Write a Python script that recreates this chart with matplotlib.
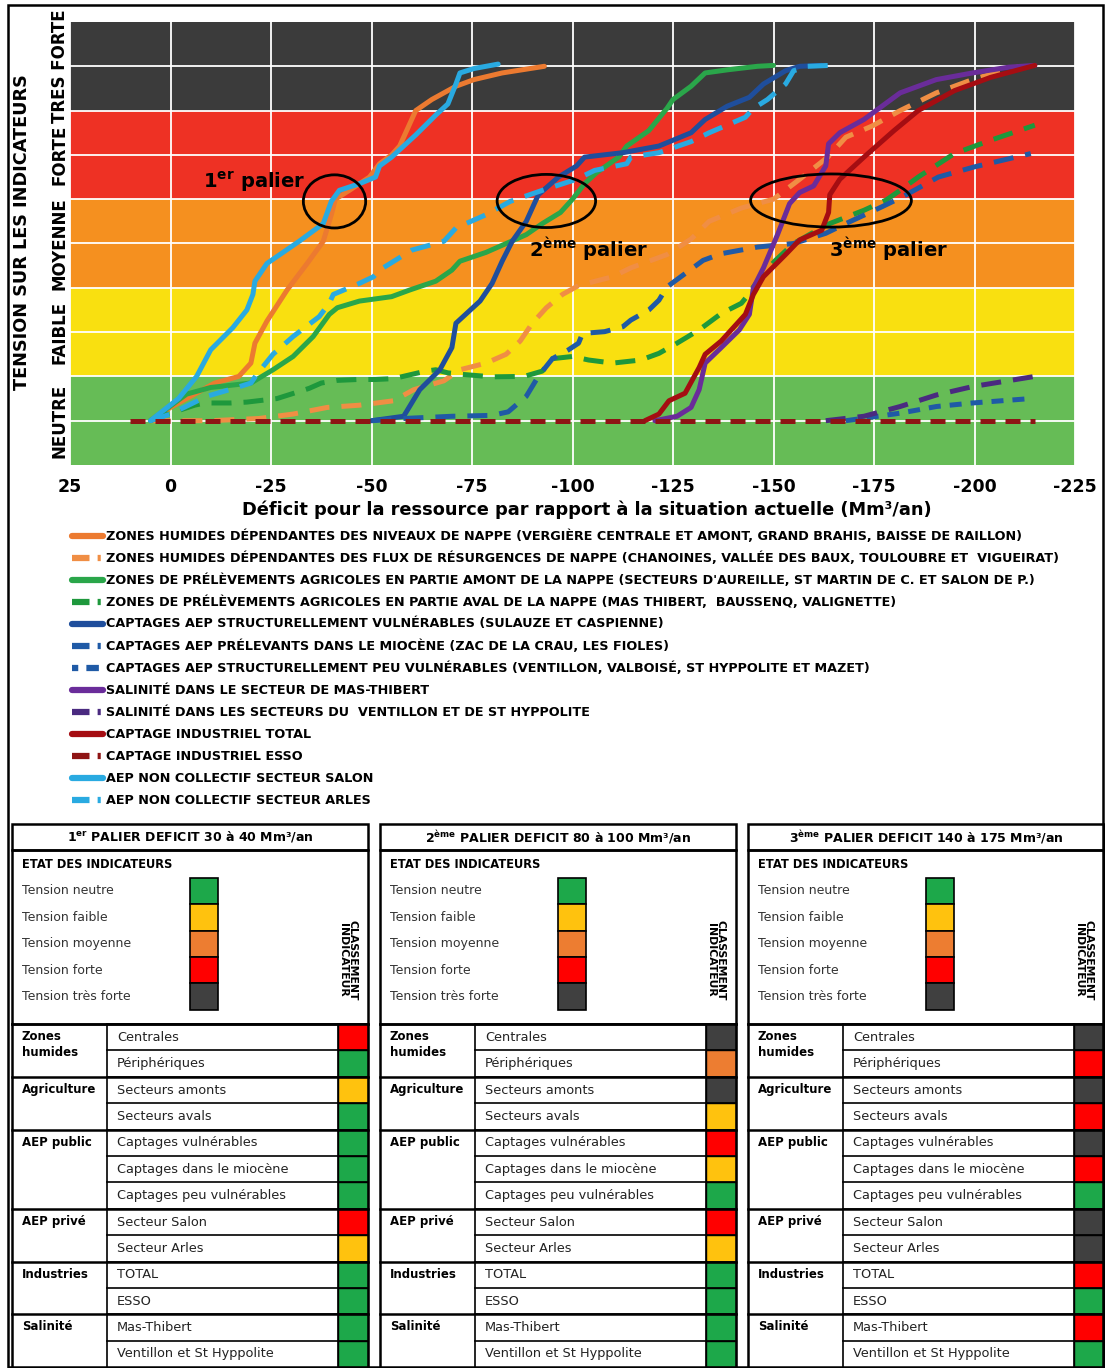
import matplotlib
matplotlib.use("Agg")
import matplotlib.pyplot as plt
from matplotlib.patches import Rectangle, Ellipse
from matplotlib import font_manager

# deficit vs situation actuelle (Mm3/an) and tension level (0..10, bands of 2)
zh_niveaux_x = [5, 0, -6, -11, -17, -20, -21, -24, -29, -34, -38, -40, -41, -44.5, -49.5, -52, -55, -57, -61, -65, -71, -75.5, -82.5, -93]
zh_niveaux_y = [1.0, 1.3, 1.6, 1.85, 2.0, 2.3, 2.75, 3.25, 3.95, 4.55, 5.05, 5.65, 6.0, 6.2, 6.5, 6.8, 7.0, 7.2, 8.0, 8.25, 8.55, 8.7, 8.85, 9.0]

zh_flux_x = [5, -10, -22, -30.5, -39, -47, -55.5, -60.5, -68, -72, -78.5, -83.5, -87, -90, -93.5, -97.5, -101.5, -110, -114.5, -123.5, -129.5, -134, -142, -150, -156.5, -163.5, -168, -174.5, -181.5, -190.5, -199.5, -207, -211.5]
zh_flux_y = [1.0, 1.0, 1.05, 1.15, 1.3, 1.35, 1.45, 1.7, 1.9, 2.15, 2.3, 2.5, 2.8, 3.2, 3.55, 3.85, 4.05, 4.25, 4.45, 4.75, 5.1, 5.5, 5.8, 6.0, 6.45, 6.95, 7.4, 7.65, 8.0, 8.4, 8.7, 8.9, 9.0]

agri_amont_x = [5, -4, -10, -20, -25.5, -30.5, -35.5, -39.5, -41.5, -47, -55, -59.5, -66, -70, -72, -78.5, -83.5, -88.5, -92.5, -97, -100, -103, -106, -111.5, -113.5, -119, -123.5, -125, -129.5, -133, -138.5, -146, -150]
agri_amont_y = [1.0, 1.6, 1.75, 1.85, 2.15, 2.45, 2.9, 3.4, 3.55, 3.7, 3.8, 3.95, 4.15, 4.4, 4.6, 4.8, 5.0, 5.2, 5.45, 5.7, 6.0, 6.35, 6.6, 6.95, 7.2, 7.55, 8.05, 8.25, 8.55, 8.85, 8.92, 9.0, 9.02]

agri_aval_x = [5, -1, -6, -8.5, -15, -19, -26.5, -34.5, -37.5, -41.5, -46.5, -51, -55.5, -63.5, -66, -69, -72, -80, -88, -92.5, -95, -100, -104, -110, -117, -121.5, -126, -131.5, -137, -142, -144, -145, -147.5, -150.5, -155, -159.5, -164, -172.5, -178, -181.5, -186, -195, -204, -215]
agri_aval_y = [1.0, 1.2, 1.35, 1.4, 1.4, 1.42, 1.5, 1.73, 1.85, 1.91, 1.93, 1.93, 1.95, 2.12, 2.15, 2.08, 2.05, 1.99, 2.0, 2.12, 2.4, 2.45, 2.37, 2.3, 2.37, 2.52, 2.75, 3.05, 3.42, 3.65, 3.87, 4.02, 4.32, 4.62, 5.0, 5.23, 5.45, 5.75, 5.98, 6.2, 6.5, 7.03, 7.33, 7.67]

aep_vuln_x = [-50, -58, -62, -67, -70, -71, -77, -80, -82.5, -85, -88.5, -91.5, -96.5, -101, -103, -112.5, -121.5, -129.5, -133, -138.5, -144, -147.5, -153, -156.5, -162]
aep_vuln_y = [1.0, 1.1, 1.7, 2.15, 2.65, 3.2, 3.7, 4.1, 4.6, 5.05, 5.5, 6.1, 6.5, 6.75, 6.95, 7.05, 7.2, 7.5, 7.8, 8.1, 8.3, 8.6, 8.9, 9.0, 9.02]

aep_miocene_x = [-50, -58, -70, -80, -84, -88.5, -91.5, -95, -99, -101.5, -102.5, -108, -112.5, -114.5, -119, -121.5, -123.5, -128, -132.5, -137, -146, -155, -163, -168, -177, -182, -191, -200, -214]
aep_miocene_y = [1.0, 1.05, 1.1, 1.12, 1.2, 1.55, 2.0, 2.4, 2.6, 2.75, 2.97, 3.01, 3.12, 3.27, 3.5, 3.72, 4.02, 4.32, 4.62, 4.77, 4.92, 5.0, 5.23, 5.45, 5.83, 6.05, 6.5, 6.73, 7.03]

aep_peu_x = [-168, -181.5, -190.5, -199.5, -214]
aep_peu_y = [1.0, 1.17, 1.32, 1.4, 1.5]

sal_mas_x = [-120.5, -126, -129.5, -131.5, -133, -137, -141.5, -144, -145, -147.5, -151, -154, -156.5, -160, -163, -163.7, -166.5, -172.5, -177, -181.5, -190.5, -199.5, -208.5, -215]
sal_mas_y = [1.0, 1.1, 1.3, 1.7, 2.3, 2.65, 3.05, 3.4, 4.0, 4.45, 5.2, 5.9, 6.15, 6.3, 6.75, 7.25, 7.5, 7.8, 8.1, 8.4, 8.7, 8.85, 8.98, 9.02]

sal_vent_x = [-163, -172.5, -181.5, -190.5, -199.5, -215]
sal_vent_y = [1.0, 1.1, 1.32, 1.58, 1.77, 2.0]

ind_total_x = [-118, -121.5, -124, -128, -131.5, -133, -137, -143, -145, -147.5, -153, -156.5, -162, -163.7, -164, -166.5, -172.5, -180, -186, -195, -204, -215]
ind_total_y = [1.0, 1.15, 1.45, 1.62, 2.2, 2.5, 2.8, 3.4, 3.85, 4.25, 4.75, 5.08, 5.3, 5.7, 6.1, 6.45, 6.95, 7.55, 8.0, 8.45, 8.75, 9.02]

ind_esso_x = [10, -215]
ind_esso_y = [1.0, 1.0]

aep_salon_x = [5, -2, -6.5, -10, -15.5, -19, -20.5, -21, -24, -32, -38, -40, -42, -47, -51, -52, -55, -61, -66, -69, -71, -72, -75.5, -81.5]
aep_salon_y = [1.0, 1.5, 2.0, 2.6, 3.1, 3.5, 3.85, 4.15, 4.55, 5.05, 5.45, 5.95, 6.2, 6.35, 6.5, 6.75, 6.95, 7.45, 7.9, 8.15, 8.6, 8.85, 8.95, 9.05]

aep_arles_x = [5, 0, -9, -16.5, -20, -21.5, -25.5, -30.5, -37, -39.5, -40.5, -47, -50.5, -52, -60, -68, -71, -78.5, -84.5, -92.5, -101, -105.5, -113.5, -114.5, -121.5, -129.5, -134, -143, -145, -148.5, -153, -155, -158.5, -164]
aep_arles_y = [1.0, 1.15, 1.55, 1.75, 1.85, 2.05, 2.5, 2.9, 3.35, 3.65, 3.85, 4.1, 4.25, 4.4, 4.85, 5.05, 5.35, 5.65, 5.95, 6.2, 6.45, 6.65, 6.8, 6.95, 7.05, 7.3, 7.5, 7.85, 8.05, 8.25, 8.6, 8.9, 9.0, 9.02]

series_labels = [
    "ZONES HUMIDES DÉPENDANTES DES NIVEAUX DE NAPPE (VERGIÈRE CENTRALE ET AMONT, GRAND BRAHIS, BAISSE DE RAILLON)",
    "ZONES HUMIDES DÉPENDANTES DES FLUX DE RÉSURGENCES DE NAPPE (CHANOINES, VALLÉE DES BAUX, TOULOUBRE ET  VIGUEIRAT)",
    "ZONES DE PRÉLÈVEMENTS AGRICOLES EN PARTIE AMONT DE LA NAPPE (SECTEURS D'AUREILLE, ST MARTIN DE C. ET SALON DE P.)",
    "ZONES DE PRÉLÈVEMENTS AGRICOLES EN PARTIE AVAL DE LA NAPPE (MAS THIBERT,  BAUSSENQ, VALIGNETTE)",
    "CAPTAGES AEP STRUCTURELLEMENT VULNÉRABLES (SULAUZE ET CASPIENNE)",
    "CAPTAGES AEP PRÉLEVANTS DANS LE MIOCÈNE (ZAC DE LA CRAU, LES FIOLES)",
    "CAPTAGES AEP STRUCTURELLEMENT PEU VULNÉRABLES (VENTILLON, VALBOISÉ, ST HYPPOLITE ET MAZET)",
    "SALINITÉ DANS LE SECTEUR DE MAS-THIBERT",
    "SALINITÉ DANS LES SECTEURS DU  VENTILLON ET DE ST HYPPOLITE",
    "CAPTAGE INDUSTRIEL TOTAL",
    "CAPTAGE INDUSTRIEL ESSO",
    "AEP NON COLLECTIF SECTEUR SALON",
    "AEP NON COLLECTIF SECTEUR ARLES",
]
series_x = [zh_niveaux_x, zh_flux_x, agri_amont_x, agri_aval_x, aep_vuln_x, aep_miocene_x, aep_peu_x,
            sal_mas_x, sal_vent_x, ind_total_x, ind_esso_x, aep_salon_x, aep_arles_x]
series_y = [zh_niveaux_y, zh_flux_y, agri_amont_y, agri_aval_y, aep_vuln_y, aep_miocene_y, aep_peu_y,
            sal_mas_y, sal_vent_y, ind_total_y, ind_esso_y, aep_salon_y, aep_arles_y]
series_colors = ['#EC7A30', '#F08E44', '#2AA64A', '#1E983C', '#1F4E9C', '#1F5AA6', '#1F5AA6',
                 '#6A2C9A', '#4A2A80', '#A50D12', '#8E1414', '#29AAE1', '#29AAE1']
series_dashes = [None, (4, 2.4), None, (4, 2.4), None, (4, 2.4), (2.4, 1.8),
                 None, (4, 2.4), None, (3, 2), None, (4, 2.4)]
# legend swatches: long dash then dot, or two short dashes
DOT = (2.8, 1.3, 0.5, 9)
swatch_dashes = [None, DOT, None, DOT, None, DOT, (1.0, 1.3, 2.0, 9), None, DOT, None, DOT, None, DOT]

band_names = ["NEUTRE", "FAIBLE", "MOYENNE", "FORTE", "TRES FORTE"]
band_colors = ['#66BC56', '#F9E010', '#F5901F', '#EE3124', '#3B3B3B']
x_ticks = [25, 0, -25, -50, -75, -100, -125, -150, -175, -200, -225]

paliers = [r"1$^{\mathbf{er}}$ palier", r"2$^{\mathbf{ème}}$ palier", r"3$^{\mathbf{ème}}$ palier"]
palier_centers = [(-40.8, 5.95), (-93.5, 5.96), (-164.3, 5.97)]
palier_widths = [15.5, 24.5, 40]
palier_text_pos = [(-20.7, 6.4), (-104, 4.88), (-178.5, 4.88)]

# tables
palier_titles = [r"1$^{\mathbf{er}}$ PALIER DEFICIT 30 à 40 Mm³/an",
                 r"2$^{\mathbf{ème}}$ PALIER DEFICIT 80 à 100 Mm³/an",
                 r"3$^{\mathbf{ème}}$ PALIER DEFICIT 140 à 175 Mm³/an"]
levels = ["Tension neutre", "Tension faible", "Tension moyenne", "Tension forte", "Tension très forte"]
level_colors = ['#1DA84A', '#FFC20E', '#ED7D31', '#FF0000', '#404040']
categories = ["Zones\nhumides", "Agriculture", "AEP public", "AEP privé", "Industries", "Salinité"]
group_sizes = [2, 2, 3, 2, 2, 2]
indicators = ["Centrales", "Périphériques", "Secteurs amonts", "Secteurs avals", "Captages vulnérables",
              "Captages dans le miocène", "Captages peu vulnérables", "Secteur Salon", "Secteur Arles",
              "TOTAL", "ESSO", "Mas-Thibert", "Ventillon et St Hyppolite"]
palier1_levels = [3, 0, 1, 0, 0, 0, 0, 3, 1, 0, 0, 0, 0]
palier2_levels = [4, 2, 4, 1, 3, 1, 0, 3, 1, 0, 0, 0, 0]
palier3_levels = [4, 3, 4, 3, 4, 3, 0, 4, 4, 3, 0, 3, 0]

W, H = 1105, 1368
names = {f.name for f in font_manager.fontManager.ttflist}
NARROW = 'Liberation Sans Narrow' if 'Liberation Sans Narrow' in names else 'DejaVu Sans'
plt.rcParams['font.family'] = 'DejaVu Sans'

fig = plt.figure(figsize=(W / 100, H / 100), dpi=100)
renderer = fig.canvas.get_renderer()


def fit(t, length):
    bb = t.get_window_extent(renderer)
    t.set_fontsize(t.get_fontsize() * length / max(bb.width, bb.height))


# pixel overlay for layout pieces
pix = fig.add_axes([0, 0, 1, 1])
pix.set_xlim(0, W)
pix.set_ylim(H, 0)
pix.axis('off')

ax = fig.add_axes([70 / W, 1 - 465 / H, 1005 / W, 443 / H])
ax.set_xlim(25, -225)
ax.set_ylim(0, 10)
for i, c in enumerate(band_colors):
    ax.axhspan(2 * i, 2 * i + 2, color=c, zorder=0, lw=0)
for xv in x_ticks:
    ax.axvline(xv, color='white', lw=1.3, zorder=1)
for yv in range(1, 10):
    ax.axhline(yv, color='white', lw=1.3, zorder=1)

lines = []
for xs, ys, c, d in zip(series_x, series_y, series_colors, series_dashes):
    ln, = ax.plot(xs, ys, color=c, lw=3.6, solid_capstyle='round', solid_joinstyle='round', zorder=3)
    if d:
        ln.set_dashes(d)
    lines.append(ln)
lines[10].set_zorder(4)

for (cx, cy), w, (tx, ty), lab in zip(palier_centers, palier_widths, palier_text_pos, paliers):
    ax.add_patch(Ellipse((cx, cy), w, 1.2, fill=False, ec='black', lw=2, zorder=5))
    ax.text(tx, ty, lab, ha='center', va='center', fontsize=14, fontweight='bold', zorder=6)

ax.set_xticks(x_ticks)
ax.set_xticklabels([str(v) for v in x_ticks], fontweight='bold')
ax.tick_params(length=0, pad=9, labelsize=12.5)
ax.set_yticks([])
for s in ax.spines.values():
    s.set_visible(False)

for i, name in enumerate(band_names):
    ax.text(-0.01, 2 * i + 1, name, transform=ax.get_yaxis_transform(), rotation=90,
            ha='center', va='center', fontsize=12, fontweight='bold')
t = pix.text(22, 232, "TENSION SUR LES INDICATEURS", rotation=90, ha='center', va='center',
             fontsize=14, fontweight='bold')
fit(t, 315)
t = pix.text(587, 510, "Déficit pour la ressource par rapport à la situation actuelle (Mm³/an)",
             ha='center', va='center', fontsize=14, fontweight='bold')
fit(t, 693)

# legend
leg_texts = []
for i, (lab, c, d) in enumerate(zip(series_labels, series_colors, swatch_dashes)):
    yy = 536 + 22 * i
    ln, = pix.plot([72, 103], [yy, yy], color=c, lw=4.5, solid_capstyle='round')
    if d:
        ln.set_dashes(d)
    leg_texts.append(pix.text(106, yy, lab, ha='left', va='center', fontsize=10,
                              fontweight='bold', family=NARROW))
fit(leg_texts[0], 921)
for tt in leg_texts[1:]:
    tt.set_fontsize(leg_texts[0].get_fontsize())

# tables
row_top0, row_h = 1024, 26.4
for L, title, lv in zip([12, 380, 748], palier_titles, [palier1_levels, palier2_levels, palier3_levels]):
    R = L + 356
    pix.add_patch(Rectangle((L, 824), 356, 26, fill=False, ec='black', lw=1.8))
    t = pix.text(L + 178, 837, title, ha='center', va='center', fontsize=9, fontweight='bold')
    pix.add_patch(Rectangle((L, 850), 356, 174, fill=False, ec='black', lw=1.8))
    pix.text(L + 10, 864, "ETAT DES INDICATEURS", ha='left', va='center', fontsize=8.3, fontweight='bold')
    for k, (lname, lc) in enumerate(zip(levels, level_colors)):
        yc = 891 + 26.4 * k
        pix.text(L + 10, yc, lname, ha='left', va='center', fontsize=9, color='#333333')
        pix.add_patch(Rectangle((L + 178, yc - 13.2), 28, 26.4, fc=lc, ec='black', lw=1.2))
    pix.text(L + 336, 960, "CLASSEMENT\nINDICATEUR", rotation=-90, ha='center', va='center',
             fontsize=7.8, fontweight='bold', linespacing=1.0)
    # rows
    r = 0
    for cat, n in zip(categories, group_sizes):
        top = row_top0 + r * row_h
        pix.text(L + 10, top + 6, cat, ha='left', va='top', fontsize=8.5, fontweight='bold',
                 linespacing=1.35)
        pix.plot([L, R], [top, top], color='black', lw=1.8)
        for j in range(n):
            rt = row_top0 + (r + j) * row_h
            pix.plot([L + 95, R], [rt, rt], color='black', lw=1.2)
            pix.text(L + 105, rt + row_h / 2, indicators[r + j], ha='left', va='center',
                     fontsize=9.3, color='#222222')
            pix.add_patch(Rectangle((L + 326, rt), 30, row_h, fc=level_colors[lv[r + j]],
                                    ec='black', lw=1))
        r += n
    bottom = row_top0 + r * row_h
    pix.plot([L, L], [row_top0, bottom], color='black', lw=1.8)
    pix.plot([R, R], [row_top0, bottom], color='black', lw=1.8)
    pix.plot([L + 95, L + 95], [row_top0, bottom], color='black', lw=1.2)
    pix.plot([L + 326, L + 326], [row_top0, bottom], color='black', lw=1.2)

# outer frame
pix.add_patch(Rectangle((8, 5), 1095, 1362, fill=False, ec='black', lw=1.8))

fig.savefig("out.png", dpi=100)
